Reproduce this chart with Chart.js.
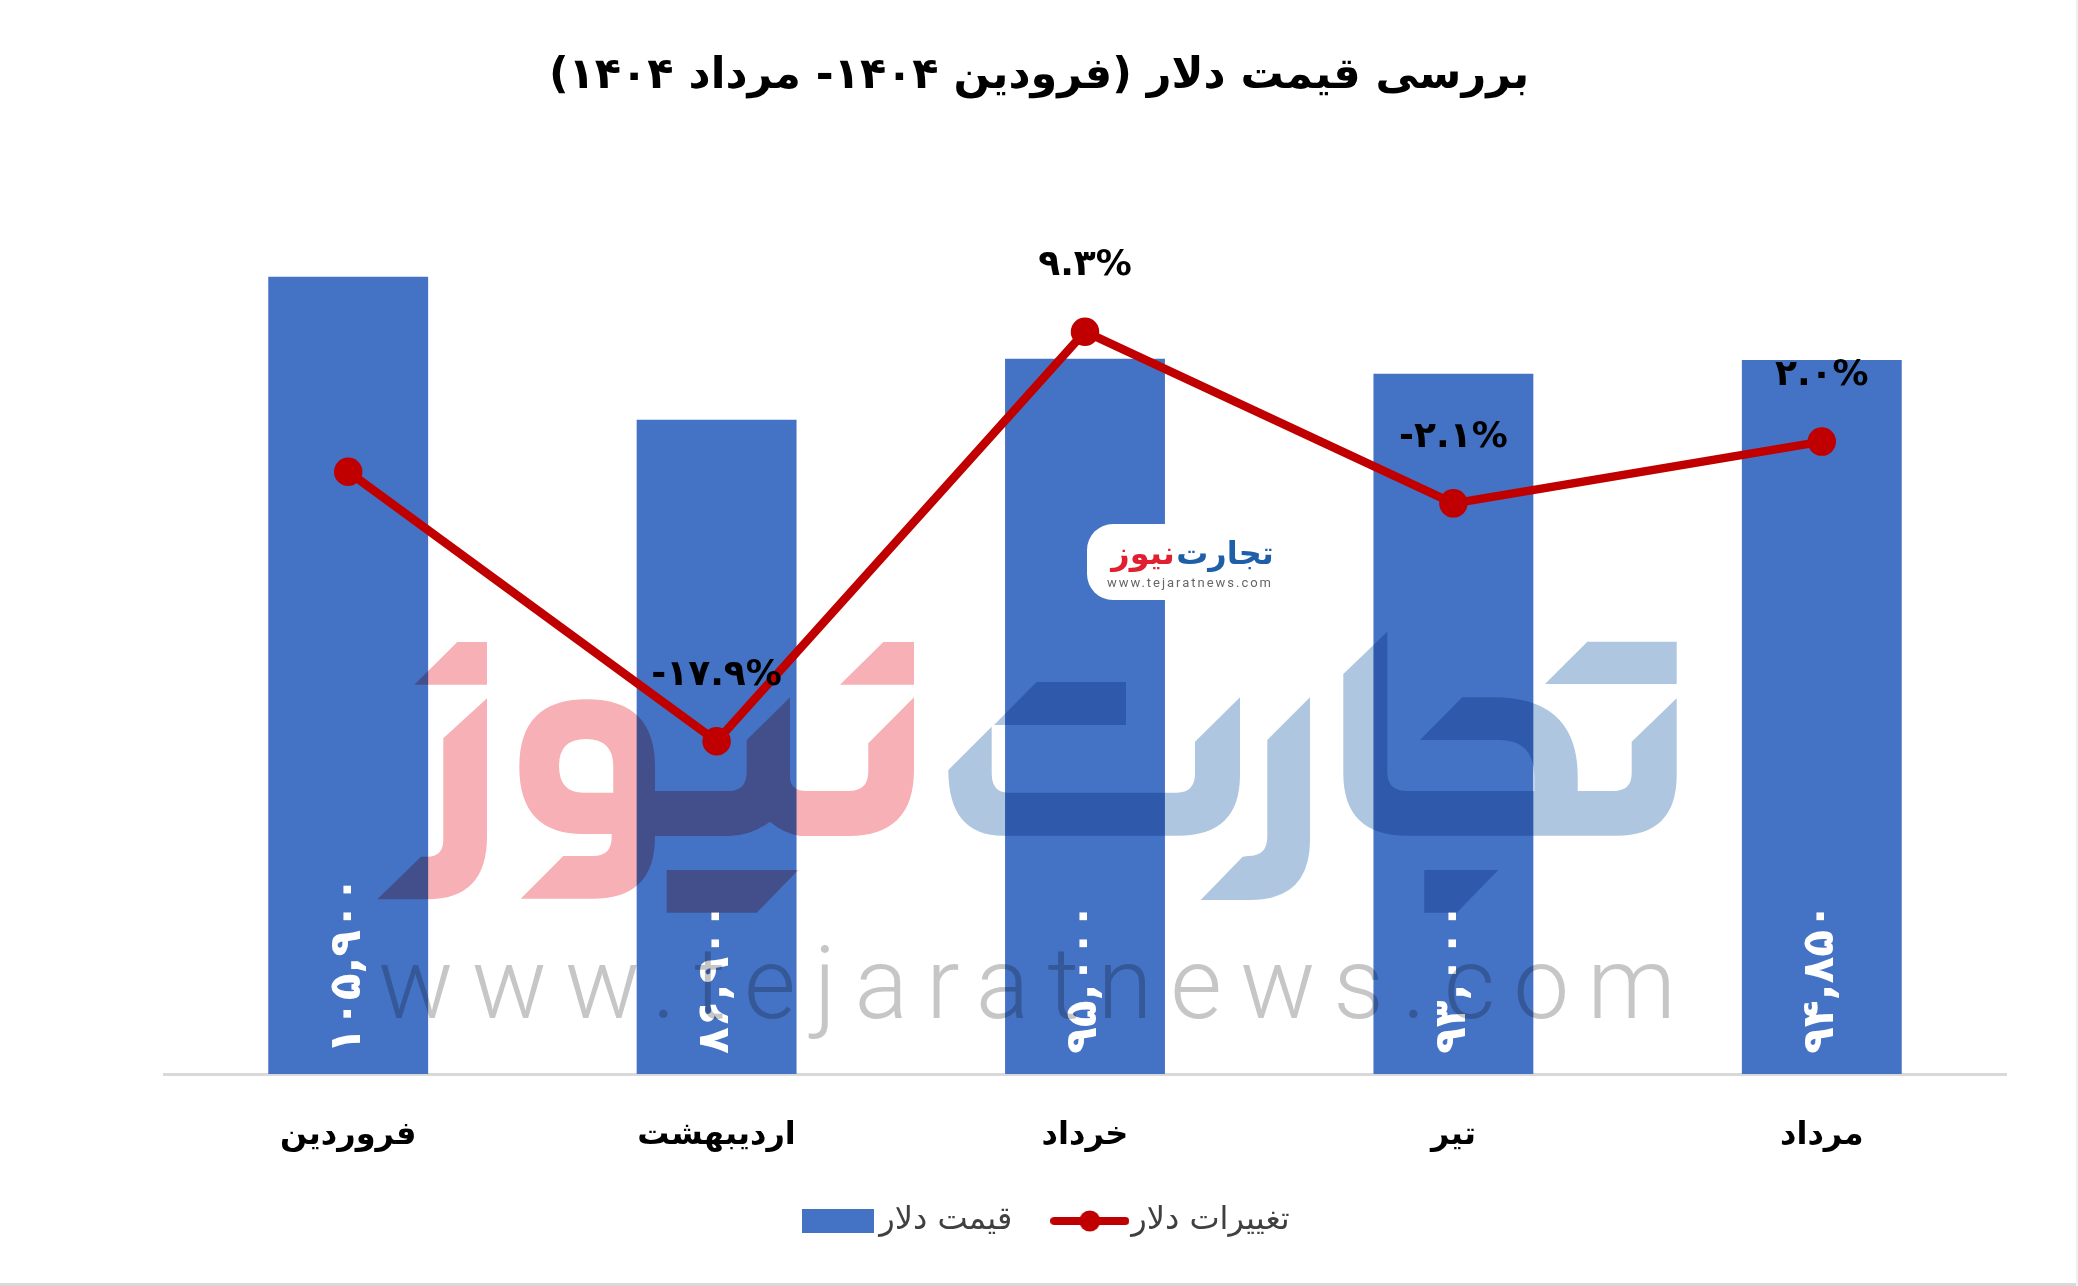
<!DOCTYPE html>
<html lang="fa">
<head>
<meta charset="utf-8">
<title>بررسی قیمت دلار</title>
<script src="https://cdn.jsdelivr.net/npm/chart.js@4"></script>
<style>
    html, body { margin: 0; padding: 0; background: #fff; }
    #page { position: relative; width: 2078px; height: 1286px; background: #fff; overflow: hidden; }
    #page svg { position: absolute; left: 0; top: 0; pointer-events: none; }
    #mark { mix-blend-mode: multiply; }
    #edgeB { position: absolute; left: 0; right: 0; bottom: 0; height: 3px; background: #d9d9d9; }
    #edgeR { position: absolute; top: 0; bottom: 0; right: 0; width: 2px; background: #f0f0f0; }
</style>
</head>
<body>
<div id="page">
    <canvas id="chart" width="2078" height="1286" dir="rtl"></canvas>
    <!-- watermark -->
    <svg id="mark" width="2078" height="1286" viewBox="0 0 2078 1286">
        <g fill="#f7b0b5" fill-rule="evenodd">
            <path d="M414.3 684.7 L457.3 642 L487 642 L487 684.7 Z"/>
            <path d="M487 698.3 L487 836.7 Q487 899.3 427 899.3 L377.3 899.3 L421 856.7 L427 856.7 Q443.3 856.7 443.3 840 L443.3 738.3 Z"/>
            <path d="M520.7 898.7 L563.3 856 L593.3 856 Q611.7 856 611.7 836.7 L611.7 834 L583.3 834 Q519.3 834 519.3 766.7 Q519.3 699.3 586.7 699.3 Q655 699.3 655 766.7 L655 836.7 Q655 898.7 593 898.7 Z M586 739 Q559 739 559 765.7 Q559 792.7 583.3 792.7 L613.3 792.7 L613.3 766.7 Q613.3 739 586 739 Z"/>
            <path d="M655 791 L728.3 791 Q746.7 791 746.7 771.7 L746.7 740 L790 697.3 L790 776.7 Q790 791 806.7 791 L848.3 791 Q868.3 791 868.3 771.7 L868.3 743.3 L914 697.3 L914 770 Q914 836 848.3 836 L800 836 Q783 833 770 821.7 Q750 836 728.3 836 L655 836 Z"/>
            <path d="M840 684.7 L883.3 642 L914 642 L914 684.7 Z"/>
            <path d="M666.7 870 L798.3 870 L756.7 912.7 L666.7 912.7 Z"/>
        </g>
        <g fill="#aec6df">
            <path d="M994 725 L1036.7 682 L1126 682 L1126 725 Z"/>
            <path d="M991.7 726.7 L948.3 770 Q948.3 835.7 1003.3 835.7 L1178.3 835.7 Q1240 835.7 1240 775 L1240 697.3 L1195 741.7 L1195 773.3 Q1195 792.7 1176.7 792.7 L1008.3 792.7 Q991.7 792.7 991.7 773.3 Z"/>
            <path d="M1310 697.3 L1267.3 740 L1267.3 836.7 Q1267.3 856 1248.3 856 L1242.7 856.7 L1200.7 900 L1250 900 Q1310 900 1310 840 Z"/>
            <path d="M1387.3 631.7 L1343.3 674 L1343.3 773.3 Q1343.3 835.7 1406.7 835.7 L1616.7 835.7 Q1676.7 835.7 1676.7 775 L1676.7 698.3 L1631.7 741.7 L1631.7 773.3 Q1631.7 791 1613.3 791 L1577.7 791 L1577.7 776.7 Q1577.7 697.3 1493.3 697.3 L1462.3 697.3 L1420 740 L1498.3 740 Q1534.3 740 1534.3 776.7 L1534.3 791 L1406.7 791 Q1387.3 791 1387.3 771.7 Z"/>
            <path d="M1545 684 L1587.3 641.7 L1676.7 641.7 L1676.7 684 Z"/>
            <path d="M1424.3 870 L1498.3 870 L1456.7 912.7 L1424.3 912.7 Z"/>
        </g>
        <text x="378" y="1018" textLength="1298" lengthAdjust="spacing" fill="#c6c6c6"
              font-family="Roboto" font-weight="300" font-size="100">www.tejaratnews.com</text>
    </svg>
    <!-- small logo -->
    <svg width="2078" height="1286" viewBox="0 0 2078 1286">
        <rect x="1087" y="524" width="200" height="76" rx="26" fill="#fff"/>
        <text x="1225" y="564" text-anchor="middle" direction="rtl" fill="#1f5fa8"
              font-family="DejaVu Sans" font-weight="bold" font-size="32">تجارت</text>
        <text x="1143" y="564" text-anchor="middle" direction="rtl" fill="#e02030"
              font-family="DejaVu Sans" font-weight="bold" font-size="32">نیوز</text>
        <text x="1107" y="587" textLength="164" lengthAdjust="spacing" fill="#666"
              font-family="Roboto" font-size="13">www.tejaratnews.com</text>
    </svg>
    <div id="edgeB"></div>
    <div id="edgeR"></div>
</div>

<script>
const chartTitle = 'بررسی قیمت دلار (فرودین ۱۴۰۴- مرداد ۱۴۰۴)';
const months = ['فروردین', 'اردیبهشت', 'خرداد', 'تیر', 'مرداد'];
const priceName = 'قیمت دلار';
const changeName = 'تغییرات دلار';
const prices = [105900, 86900, 95000, 93000, 94850];
const changes = [0, -17.9, 9.3, -2.1, 2.0];
const changeLabels = ['', '-۱۷.۹%', '۹.۳%', '-۲.۱%', '۲.۰%'];

const FONT = '"DejaVu Sans"';
const BAR_COLOR = '#4472c4';
const LINE_COLOR = '#c00000';

function toPersianDigits(text) {
    return String(text).replace(/[0-9]/g, d => '۰۱۲۳۴۵۶۷۸۹'[d]);
}

// legend swatches
function barSwatch() {
    const c = document.createElement('canvas');
    c.width = 72;
    c.height = 24;
    const ctx = c.getContext('2d');
    ctx.fillStyle = BAR_COLOR;
    ctx.fillRect(0, 0, 72, 24);
    return c;
}

function lineSwatch() {
    const c = document.createElement('canvas');
    c.width = 79;
    c.height = 22;
    const ctx = c.getContext('2d');
    ctx.strokeStyle = LINE_COLOR;
    ctx.lineWidth = 8;
    ctx.lineCap = 'round';
    ctx.beginPath();
    ctx.moveTo(4, 11);
    ctx.lineTo(75, 11);
    ctx.stroke();
    ctx.fillStyle = LINE_COLOR;
    ctx.beginPath();
    ctx.arc(39.5, 11, 10.5, 0, Math.PI * 2);
    ctx.fill();
    return c;
}

const valueLabels = {
    id: 'valueLabels',
    // the legend sits a little right of the page centre in the original
    afterLayout(chart) {
        chart.legend.left += 12;
        chart.legend.right += 12;
    },
    afterDatasetsDraw(chart) {
        const ctx = chart.ctx;
        ctx.save();
        ctx.direction = 'ltr';

        chart.getDatasetMeta(0).data.forEach((bar, i) => {
            ctx.save();
            ctx.translate(bar.x, bar.base - 20);
            ctx.rotate(-Math.PI / 2);
            ctx.font = 'bold 44px ' + FONT;
            ctx.fillStyle = '#fff';
            ctx.textAlign = 'left';
            ctx.textBaseline = 'middle';
            ctx.fillText(toPersianDigits(prices[i].toLocaleString('en-US')), 0, 0);
            ctx.restore();
        });

        ctx.font = 'bold 36px ' + FONT;
        ctx.fillStyle = '#000';
        ctx.textAlign = 'center';
        ctx.textBaseline = 'middle';
        chart.getDatasetMeta(1).data.forEach((pt, i) => {
            ctx.fillText(changeLabels[i], pt.x, pt.y - 66);
        });
        ctx.restore();
    }
};

new Chart(document.getElementById('chart').getContext('2d'), {
    data: {
        labels: months,
        datasets: [{
            type: 'bar',
            label: priceName,
            data: prices,
            yAxisID: 'y',
            order: 1,
            backgroundColor: BAR_COLOR,
            categoryPercentage: 1,
            barPercentage: 0.434
        }, {
            type: 'line',
            label: changeName,
            data: changes,
            yAxisID: 'y1',
            order: 0,
            borderColor: LINE_COLOR,
            backgroundColor: LINE_COLOR,
            borderWidth: 8.5,
            tension: 0,
            pointRadius: 10,
            pointHoverRadius: 10
        }]
    },
    options: {
        responsive: false,
        animation: false,
        devicePixelRatio: 1,
        layout: { padding: { left: 0, right: 0, top: 51, bottom: 39 } },
        plugins: {
            title: {
                display: true,
                text: chartTitle,
                color: '#000',
                font: { family: FONT, size: 43, weight: 'bold', lineHeight: 1.2 },
                padding: { top: 0, bottom: 68 }
            },
            legend: {
                display: true,
                position: 'bottom',
                labels: {
                    color: '#404040',
                    font: { family: FONT, size: 32 },
                    padding: 52,
                    usePointStyle: true,
                    pointStyleWidth: 51,
                    boxHeight: 24,
                    generateLabels(chart) {
                        return [
                            { text: priceName, datasetIndex: 0, pointStyle: barSwatch(), fontColor: '#404040' },
                            { text: changeName, datasetIndex: 1, pointStyle: lineSwatch(), fontColor: '#404040' }
                        ];
                    }
                }
            },
            tooltip: { enabled: false }
        },
        scales: {
            x: {
                grid: { display: false, drawTicks: false },
                border: { color: '#d9d9d9', width: 3 },
                ticks: {
                    color: '#000',
                    padding: 42,
                    maxRotation: 0,
                    font: { family: FONT, size: 32, weight: 'bold', lineHeight: 1.2 }
                },
                afterFit(axis) {
                    axis.height = 79;
                }
            },
            y: {
                min: 0,
                max: 120000,
                grid: { display: false },
                border: { display: false },
                ticks: { display: false },
                afterFit(axis) {
                    axis.width = 164;
                }
            },
            y1: {
                position: 'right',
                min: -40,
                max: 20,
                grid: { display: false },
                border: { display: false },
                ticks: { display: false },
                afterFit(axis) {
                    axis.width = 72;
                }
            }
        }
    },
    plugins: [valueLabels]
});
</script>
</body>
</html>
